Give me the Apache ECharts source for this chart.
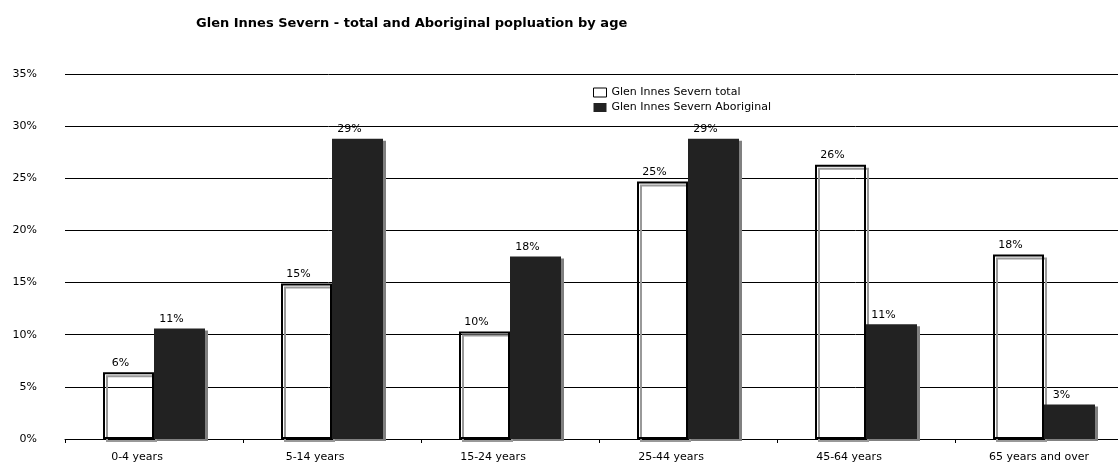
<!DOCTYPE html>
<html>
<head>
<meta charset="utf-8">
<script src="https://cdn.jsdelivr.net/npm/echarts@6/dist/echarts.min.js"></script>
<style>
html,body{margin:0;padding:0;background:#fff;overflow:hidden;}
#chart{width:1118px;height:463px;}
</style>
</head>
<body>
<div id="chart"></div>
<script>
const titleText = 'Glen Innes Severn - total and Aboriginal popluation by age';
const categories = ['0-4 years', '5-14 years', '15-24 years', '25-44 years', '45-64 years', '65 years and over'];
const seriesNames = ['Glen Innes Severn total', 'Glen Innes Severn Aboriginal'];
const totalValues = [6.4, 14.9, 10.3, 24.7, 26.3, 17.7];
const aboriginalValues = [10.6, 28.8, 17.5, 28.8, 11.0, 3.3];

const FONT = 'DejaVu Sans, Verdana, sans-serif';
const chart = echarts.init(document.getElementById('chart'), null, {renderer: 'canvas'});
const labelCfg = {
  show: true, position: 'top', distance: 4, offset: [-8, 0],
  color: '#000', fontFamily: FONT, fontSize: 11,
  formatter: p => Math.round(p.value) + '%'
};
chart.setOption({
  animation: false,
  backgroundColor: '#fff',
  title: {
    text: titleText, left: 191, top: 12,
    textStyle: {fontFamily: FONT, fontSize: 13, fontWeight: 'bold', color: '#000'}
  },
  legend: {
    orient: 'vertical', left: 588, top: 82,
    icon: 'rect',
    itemWidth: 13, itemHeight: 9, itemGap: 4,
    textStyle: {fontFamily: FONT, fontSize: 11, color: '#000'},
    data: [
      {name: seriesNames[0], itemStyle: {color: '#fff', borderColor: '#000', borderWidth: 1, shadowColor: 'transparent'}},
      {name: seriesNames[1], itemStyle: {color: '#222', borderWidth: 0, shadowColor: 'transparent'}}
    ]
  },
  grid: {left: 65, top: 74, bottom: 24, width: 1068, containLabel: false, outerBoundsMode: 'none'},
  xAxis: {
    type: 'category', data: categories,
    axisLine: {lineStyle: {color: '#000', width: 1}},
    axisTick: {show: true, length: 4, lineStyle: {color: '#000'}},
    axisLabel: {
      color: '#000', fontFamily: FONT, fontSize: 11, margin: 13, interval: 0,
      formatter: (v, i) => (i === categories.length - 1 ? '{l|' + v + '}' : '{s|' + v + '}'),
      rich: {
        s: {fontFamily: FONT, fontSize: 11, color: '#000', padding: [0, 34, 0, 0]},
        l: {fontFamily: FONT, fontSize: 11, color: '#000', padding: [0, 10, 0, 0]}
      }
    }
  },
  yAxis: {
    type: 'value', min: 0, max: 35, interval: 5,
    axisLine: {show: false}, axisTick: {show: false},
    axisLabel: {color: '#000', fontFamily: FONT, fontSize: 11, margin: 28, formatter: '{value}%'},
    splitLine: {lineStyle: {color: '#000', width: 1}}
  },
  series: [
    {
      name: seriesNames[0], type: 'bar', data: totalValues,
      barWidth: 51, barGap: '0%',
      itemStyle: {color: 'transparent', borderColor: '#000', borderWidth: 2,
        shadowColor: '#999', shadowOffsetX: 3, shadowOffsetY: 3, shadowBlur: 0},
      label: labelCfg
    },
    {
      name: seriesNames[1], type: 'bar', data: aboriginalValues,
      barWidth: 51, barGap: '0%',
      itemStyle: {color: '#222', borderWidth: 0,
        shadowColor: '#808080', shadowOffsetX: 3, shadowOffsetY: 2, shadowBlur: 0},
      label: labelCfg
    }
  ]
});
</script>
</body>
</html>
